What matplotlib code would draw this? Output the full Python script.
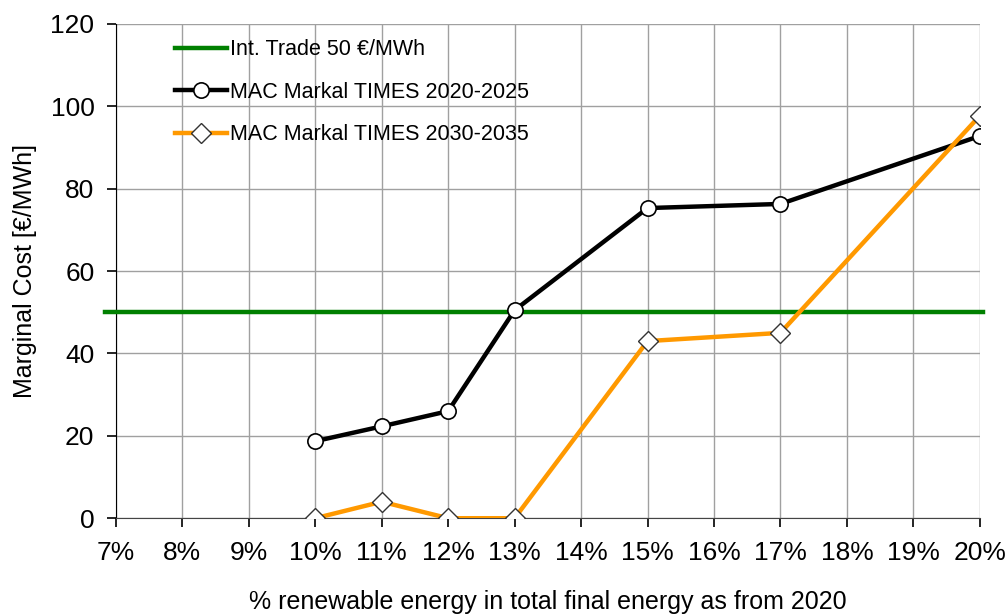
import matplotlib
matplotlib.use("Agg")
import matplotlib.pyplot as plt
from matplotlib.ticker import FuncFormatter

plt.rcParams['font.family'] = ['Liberation Sans', 'DejaVu Sans']

share = [10, 11, 12, 13, 15, 17, 20]
mac_2020 = [18.7, 22.3, 26.0, 50.5, 75.3, 76.3, 92.8]
mac_2030 = [0, 4.0, 0, 0, 43.0, 45.0, 97.7]
trade_price = 50
x_ticks = list(range(7, 21))
y_ticks = [0, 20, 40, 60, 80, 100, 120]

fig = plt.figure(figsize=(10.08, 6.14), dpi=100)
ax = fig.add_axes([0.115, 0.156, 0.857, 0.805])

ax.axhline(trade_price, xmin=-0.013, xmax=1.004, color='#008000', lw=3.2,
           clip_on=False, label='Int. Trade 50 €/MWh', zorder=3)
ax.plot(share, mac_2020, color='black', lw=3.2, marker='o', ms=11,
        mfc='white', mec='black', mew=1.2, label='MAC Markal TIMES 2020-2025', zorder=4)
ax.plot(share, mac_2030, color='#ff9900', lw=3.2, marker='D', ms=10,
        mfc='white', mec='#333333', mew=1.0, label='MAC Markal TIMES 2030-2035', zorder=5)

ax.set_xlim(7, 20)
ax.set_ylim(0, 120)
ax.set_xticks(x_ticks)
ax.set_yticks(y_ticks)
ax.xaxis.set_major_formatter(FuncFormatter(lambda v, p: f"{int(v)}%"))
ax.grid(True, color='#a0a0a0', lw=1)
ax.set_axisbelow(True)

for s in ['top', 'right']:
    ax.spines[s].set_visible(False)
ax.spines['left'].set_color('black')
ax.spines['bottom'].set_color('#444444')
ax.tick_params(axis='both', direction='out', length=6.5, width=1.2, labelsize=19,
               colors='black')
ax.tick_params(axis='x', pad=10)
ax.tick_params(axis='y', pad=9)

ax.set_xlabel('% renewable energy in total final energy as from 2020', fontsize=18, labelpad=18)
ax.set_ylabel('Marginal Cost [€/MWh]', fontsize=18, labelpad=10)

leg = ax.legend(loc='upper left', bbox_to_anchor=(0.046, 1.008), frameon=False,
                fontsize=15.5, handlelength=2.4, handletextpad=0.15, labelspacing=1.0)

fig.savefig('out.png', dpi=100)
